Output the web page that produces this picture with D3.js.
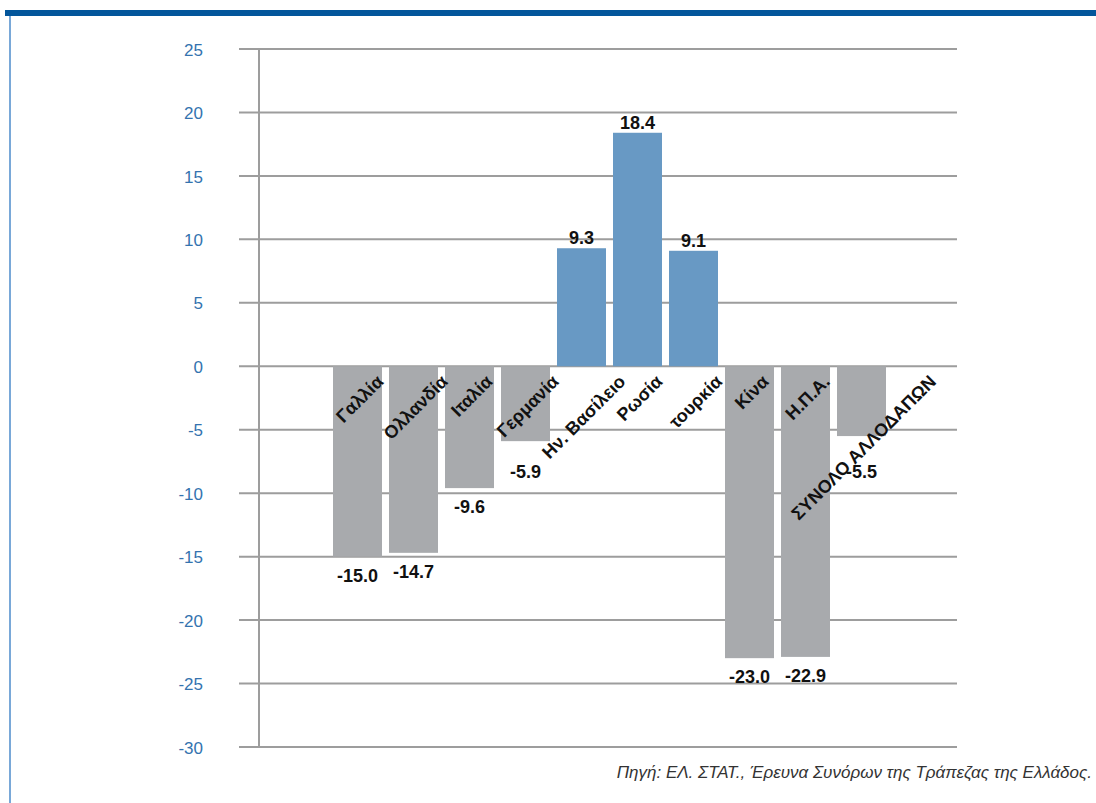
<!DOCTYPE html>
<html>
<head>
<meta charset="utf-8">
<script src="https://cdn.jsdelivr.net/npm/d3@7"></script>
<style>
  html, body { margin: 0; padding: 0; background: #ffffff; }
  svg { display: block; }
</style>
</head>
<body>
<svg id="chart" width="1096" height="803"></svg>
<script>
// Percentage change by country of origin
const categories = ["Γαλλία", "Ολλανδία", "Ιταλία", "Γερμανία", "Ην. Βασίλειο", "Ρωσία", "τουρκία", "Κίνα", "Η.Π.Α.", "ΣΥΝΟΛΟ ΑΛΛΟΔΑΠΩΝ"];
const values = [-15.0, -14.7, -9.6, -5.9, 9.3, 18.4, 9.1, -23.0, -22.9, -5.5];
const tickValues = [25, 20, 15, 10, 5, 0, -5, -10, -15, -20, -25, -30];
const sourceText = "Πηγή: ΕΛ. ΣΤΑΤ., Έρευνα Συνόρων της Τράπεζας της Ελλάδος.";

const data = categories.map((c, i) => ({ name: c, value: values[i] }));

const svg = d3.select("#chart");
const font = "'Liberation Sans', Arial, sans-serif";

// frame: heavy blue rule on top, thin light-blue rule on the left
svg.append("rect").attr("x", 5).attr("y", 10).attr("width", 1091).attr("height", 6).attr("fill", "#03569b");
svg.append("rect").attr("x", 9).attr("y", 16).attr("width", 2).attr("height", 787).attr("fill", "#79a8d8");

const y = d3.scaleLinear().domain([-30, 25]).range([747, 49]);
const x = d3.scaleBand().domain(categories).range([329.5, 889.5]).paddingInner(0.125).paddingOuter(0.0625);

const gridX0 = 239, gridX1 = 957, axisX = 259;
const gridColor = "#9d9d9d";

// horizontal gridlines
svg.append("g").selectAll("line").data(tickValues).join("line")
  .attr("x1", gridX0).attr("x2", gridX1)
  .attr("y1", d => y(d)).attr("y2", d => y(d))
  .attr("stroke", gridColor).attr("stroke-width", 2);

// vertical axis line
svg.append("line").attr("x1", axisX).attr("x2", axisX)
  .attr("y1", y(25)).attr("y2", y(-30))
  .attr("stroke", gridColor).attr("stroke-width", 2);

// tick labels (plain hyphen for negatives)
const yAxis = d3.axisLeft(y).tickValues(tickValues).tickSize(0).tickPadding(0)
  .tickFormat(d => d < 0 ? "-" + Math.abs(d) : String(d));
const gAxis = svg.append("g").attr("transform", "translate(203,0)").call(yAxis);
gAxis.select(".domain").remove();
gAxis.selectAll("text")
  .attr("fill", "#3473af")
  .attr("font-family", font)
  .attr("font-size", 17)
  .attr("dy", "0.36em");

// bars
svg.append("g").selectAll("rect").data(data).join("rect")
  .attr("x", d => x(d.name))
  .attr("width", x.bandwidth())
  .attr("y", d => y(Math.max(0, d.value)))
  .attr("height", d => Math.abs(y(d.value) - y(0)))
  .attr("fill", d => d.value >= 0 ? "#6899c4" : "#a8aaad");

// value labels
const fmt = v => (v < 0 ? "-" : "") + Math.abs(v).toFixed(1);
svg.append("g").selectAll("text").data(data).join("text")
  .attr("x", d => x(d.name) + x.bandwidth() / 2)
  .attr("y", d => d.value >= 0 ? y(d.value) - 4 : Math.max(y(d.value) + 25, y(0) + 112))
  .attr("text-anchor", "middle")
  .attr("font-family", font)
  .attr("font-weight", "bold")
  .attr("font-size", 18)
  .attr("fill", "#111")
  .text(d => fmt(d.value));

// category labels, rotated 45°, centred on each bar with their top near the zero line
const catG = svg.append("g");
data.forEach(d => {
  const cx = x(d.name) + x.bandwidth() / 2;
  const t = catG.append("text")
    .attr("text-anchor", "middle")
    .attr("font-family", font)
    .attr("font-weight", "bold")
    .attr("font-size", 18)
    .attr("fill", "#111")
    .attr("dy", "0.35em")
    .text(d.name);
  const len = t.node().getComputedTextLength();
  const half = len / (2 * Math.SQRT2);
  t.attr("transform", `translate(${cx + 2},${y(0) + 12 + half}) rotate(-45)`);
});

// source note
svg.append("text")
  .attr("x", 1092).attr("y", 778)
  .attr("text-anchor", "end")
  .attr("font-family", font)
  .attr("font-style", "italic")
  .attr("font-size", 17)
  .attr("fill", "#333")
  .text(sourceText);
</script>
</body>
</html>
